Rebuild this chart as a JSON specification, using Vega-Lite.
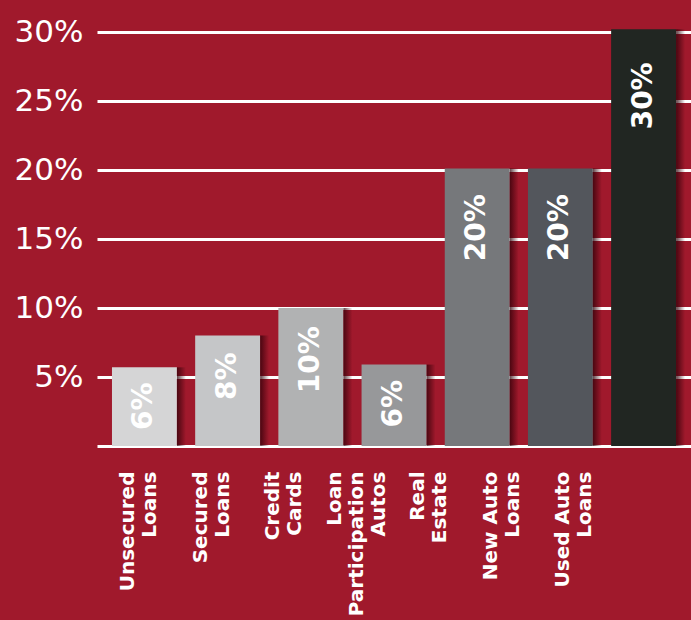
{
  "$schema": "https://vega.github.io/schema/vega-lite/v6.json",
  "width": 594,
  "height": 414,
  "autosize": {"type": "none"},
  "padding": {"left": 97, "top": 32, "right": 0, "bottom": 174},
  "background": "#a0192c",
  "config": {"view": {"stroke": null}},
  "data": {
    "values": [
      {"cat": "Unsecured|Loans", "v": 0.057},
      {"cat": "Secured|Loans", "v": 0.080},
      {"cat": "Credit|Cards", "v": 0.100},
      {"cat": "Loan|Participation|Autos", "v": 0.059},
      {"cat": "Real|Estate", "v": 0.201},
      {"cat": "New Auto|Loans", "v": 0.201},
      {"cat": "Used Auto|Loans", "v": 0.302}
    ]
  },
  "resolve": {"scale": {"x": "independent", "y": "independent"}, "axis": {"x": "independent", "y": "independent"}},
  "layer": [
    {
      "mark": {"type": "bar", "clip": false,
               "color": {"gradient": "linear", "x1": 0, "x2": 1, "y1": 0, "y2": 0,
                         "stops": [{"offset": 0, "color": "rgba(45,0,8,0.75)"}, {"offset": 1, "color": "rgba(45,0,8,0)"}]}},
      "encoding": {
        "x": {"field": "cat", "type": "nominal", "sort": null,
              "scale": {"type": "band", "paddingInner": 0.892, "paddingOuter": 0.516, "align": 0.931}, "axis": null},
        "y": {"field": "v", "type": "quantitative",
              "scale": {"domain": [0, 0.3], "nice": false, "zero": true},
              "axis": {"values": [0, 0.05, 0.1, 0.15, 0.2, 0.25, 0.3], "format": ".0%",
                       "labelExpr": "datum.value == 0 ? '' : datum.label",
                       "domain": false, "ticks": false, "tickSize": 0, "labelPadding": 14,
                       "labelFontSize": 31, "labelFont": "DejaVu Sans", "labelColor": "white",
                       "labelBaseline": "middle",
                       "gridColor": "white", "gridWidth": 3, "gridOpacity": 1, "title": null}}
      }
    },
    {
      "mark": {"type": "bar", "clip": false},
      "encoding": {
        "x": {"field": "cat", "type": "nominal", "sort": null,
              "scale": {"type": "band", "paddingInner": 0.22, "paddingOuter": 0.18}, "axis": null},
        "y": {"field": "v", "type": "quantitative",
              "scale": {"domain": [0, 0.3], "nice": false, "zero": true}, "axis": null},
        "color": {"field": "cat", "type": "nominal", "sort": null,
                  "scale": {"domain": ["Unsecured|Loans", "Secured|Loans", "Credit|Cards", "Loan|Participation|Autos", "Real|Estate", "New Auto|Loans", "Used Auto|Loans"],
                            "range": ["#d5d5d6", "#c5c6c8", "#b1b2b3", "#97989a", "#76787b", "#53565c", "#212622"]},
                  "legend": null}
      }
    },
    {
      "mark": {"type": "text", "angle": 270, "align": "right", "baseline": "middle",
               "font": "DejaVu Sans", "fontWeight": "bold", "fontSize": 28, "color": "white"},
      "encoding": {
        "x": {"field": "cat", "type": "nominal", "sort": null,
              "scale": {"type": "band", "paddingInner": 0.22, "paddingOuter": 0.18}, "axis": null},
        "y": {"field": "v", "type": "quantitative",
              "scale": {"domain": [0.0084, 0.3252], "nice": false, "zero": false}, "axis": null},
        "text": {"field": "v", "type": "quantitative", "format": ".0%"}
      }
    },
    {
      "mark": {"type": "point", "opacity": 0},
      "encoding": {
        "x": {"field": "cat", "type": "nominal", "sort": null,
              "scale": {"type": "band", "paddingInner": 0, "paddingOuter": 0.595, "align": 0.0665},
              "axis": {"orient": "bottom", "title": null, "domain": false, "ticks": false, "tickSize": 0,
                       "grid": false, "labelAngle": 270, "labelAlign": "right", "labelBaseline": "middle",
                       "labelPadding": 25, "labelFont": "DejaVu Sans", "labelFontWeight": "bold",
                       "labelFontSize": 20, "labelColor": "white", "labelLineHeight": 22,
                       "labelLimit": 400, "labelOverlap": false,
                       "labelOffset": {"condition": {"test": "indexof(datum.value, 'Participation') >= 0", "value": -22}, "value": -11},
                       "labelExpr": "split(datum.label, '|')"}}
      }
    }
  ]
}
